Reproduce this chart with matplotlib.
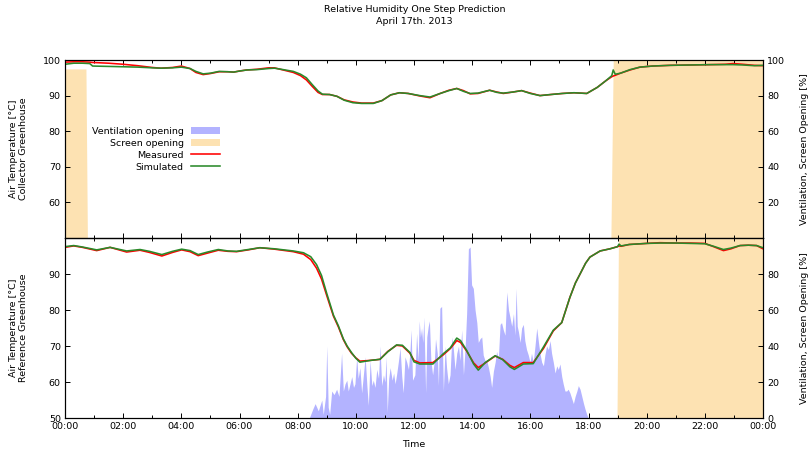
import matplotlib
matplotlib.use("Agg")
import matplotlib.pyplot as plt
from matplotlib.patches import Patch
from matplotlib.lines import Line2D
from matplotlib.ticker import MultipleLocator

# ---------------- data ----------------
# top panel (collector greenhouse)
top_hours = [0.0, 0.3, 0.6, 0.85, 0.95, 1.5, 2.0, 2.5, 3.0, 3.3, 3.7, 4.0, 4.3, 4.5, 4.75,
             5.0, 5.3, 5.6, 5.8, 6.0, 6.25, 6.6, 7.0, 7.2, 7.5, 7.85, 8.1, 8.3, 8.5, 8.7, 8.85,
             9.1, 9.35, 9.6, 9.9, 10.2, 10.6, 10.9, 11.2, 11.5, 11.8, 12.2, 12.55, 12.9, 13.2,
             13.47, 13.7, 13.93, 14.2, 14.6, 14.85, 15.07, 15.4, 15.7, 16.0, 16.33, 16.7, 17.1,
             17.5, 17.94, 18.3, 18.6, 18.8, 18.85, 18.92, 19.1, 19.43, 19.77, 20.2, 20.8, 21.5,
             22.2, 22.7, 22.97, 23.3, 23.7, 24.0]
top_measured = [99.4, 99.5, 99.5, 99.4, 99.3, 99.1, 98.8, 98.4, 97.9, 97.7, 97.9, 98.3, 97.6,
                96.5, 95.9, 96.2, 96.7, 96.7, 96.6, 96.9, 97.2, 97.4, 97.8, 97.8, 97.2, 96.5,
                95.6, 94.4, 92.6, 90.9, 90.3, 90.3, 89.8, 88.8, 88.2, 87.9, 87.9, 88.6, 90.2, 90.8,
                90.6, 89.9, 89.4, 90.6, 91.5, 92.0, 91.4, 90.5, 90.6, 91.5, 91.0, 90.6, 91.0,
                91.4, 90.7, 90.0, 90.3, 90.6, 90.8, 90.6, 92.3, 94.2, 95.3, 95.5, 95.7, 96.3,
                97.2, 98.0, 98.3, 98.5, 98.6, 98.7, 98.8, 99.0, 98.8, 98.5, 98.4]
top_simulated = [98.8, 99.1, 99.1, 99.0, 98.3, 98.2, 98.1, 98.0, 97.8, 97.7, 97.8, 98.0, 97.6,
                 96.8, 96.1, 96.3, 96.8, 96.7, 96.6, 96.9, 97.2, 97.3, 97.6, 97.7, 97.3, 96.8,
                 96.0, 95.0, 93.1, 91.3, 90.4, 90.3, 89.8, 88.7, 88.0, 87.8, 87.8, 88.6, 90.2, 90.8,
                 90.6, 90.0, 89.6, 90.6, 91.4, 92.0, 91.2, 90.6, 90.7, 91.5, 90.9, 90.7, 91.0,
                 91.4, 90.6, 90.0, 90.3, 90.6, 90.8, 90.6, 92.3, 94.2, 95.6, 97.2, 96.0, 96.3,
                 97.3, 98.0, 98.3, 98.5, 98.6, 98.7, 98.7, 98.7, 98.6, 98.4, 98.5]
top_screen_hours = [0.0, 0.72, 0.77, 18.77, 18.85, 24.0]
top_screen = [95, 95, 0, 0, 100, 100]

# bottom panel (reference greenhouse)
bot_hours = [0.0, 0.3, 0.6, 1.09, 1.55, 2.12, 2.58, 2.9, 3.33, 3.7, 4.01, 4.3, 4.58, 4.9, 5.27,
             5.6, 5.9, 6.3, 6.7, 7.2, 7.85, 8.2, 8.45, 8.65, 8.82, 9.0, 9.12, 9.23, 9.4, 9.57,
             9.7, 9.85, 10.0, 10.14, 10.5, 10.83, 11.1, 11.4, 11.6, 11.86, 12.0, 12.2, 12.65,
             13.0, 13.25, 13.47, 13.6, 13.81, 14.05, 14.21, 14.45, 14.79, 15.05, 15.3, 15.45,
             15.76, 16.1, 16.45, 16.79, 17.08, 17.2, 17.36, 17.55, 17.71, 17.9, 18.05, 18.4,
             18.74, 19.0, 19.05, 19.12, 19.4, 20.0, 20.46, 21.0, 21.5, 22.0, 22.3, 22.64, 22.9,
             23.21, 23.5, 23.78, 24.0]
bot_measured = [97.4, 97.8, 97.4, 96.5, 97.4, 96.1, 96.6, 96.0, 95.0, 96.0, 96.7, 96.2, 95.1,
                95.8, 96.6, 96.3, 96.2, 96.7, 97.3, 96.9, 96.2, 95.5, 94.0, 91.6, 88.6, 84.0,
                81.0, 78.3, 75.3, 71.8, 69.8, 68.0, 66.7, 65.8, 66.0, 66.3, 68.5, 70.2, 70.0,
                68.0, 66.0, 65.3, 65.4, 67.5, 69.3, 71.5, 71.0, 68.6, 65.3, 64.0, 65.3, 67.2,
                66.3, 64.6, 64.0, 65.4, 65.4, 69.3, 74.2, 76.5, 79.5, 83.5, 87.5, 90.0, 93.0,
                94.7, 96.4, 97.0, 97.6, 97.8, 97.7, 98.2, 98.5, 98.7, 98.6, 98.6, 98.5, 97.6,
                96.5, 97.0, 97.9, 98.0, 97.9, 97.0]
bot_simulated = [97.6, 97.9, 97.5, 96.7, 97.4, 96.4, 96.8, 96.3, 95.4, 96.3, 96.9, 96.5, 95.4,
                 96.1, 96.8, 96.4, 96.3, 96.8, 97.3, 97.0, 96.4, 95.9, 94.8, 92.6, 89.6, 84.6,
                 81.5, 78.6, 75.6, 72.0, 70.0, 68.2, 66.6, 65.5, 66.0, 66.3, 68.4, 70.3, 70.2,
                 68.2, 65.6, 65.0, 65.0, 67.8, 69.5, 72.2, 71.5, 68.8, 65.0, 63.3, 65.4, 67.3,
                 66.2, 64.2, 63.5, 65.0, 65.1, 69.7, 74.4, 76.5, 79.5, 83.5, 87.5, 90.0, 93.0,
                 94.7, 96.4, 97.0, 97.6, 98.3, 97.8, 98.2, 98.5, 98.6, 98.6, 98.5, 98.4, 97.7,
                 96.8, 97.2, 97.9, 98.0, 97.9, 97.3]
bot_screen_hours = [0.0, 18.98, 19.03, 24.0]
bot_screen = [0, 0, 100, 100]
vent_hours = [8.40, 8.52, 8.60, 8.71, 8.83, 8.88, 8.96, 9.00, 9.05, 9.10, 9.17, 9.25, 9.34, 9.42,
              9.51, 9.57, 9.63, 9.69, 9.74, 9.80, 9.86, 9.92, 9.97, 10.03, 10.08, 10.14, 10.20,
              10.26, 10.32, 10.38, 10.43, 10.49, 10.55, 10.60, 10.66, 10.72, 10.78, 10.83, 10.89,
              10.95, 11.00, 11.04, 11.08, 11.13, 11.18, 11.25, 11.30, 11.35, 11.40, 11.46, 11.52,
              11.58, 11.63, 11.69, 11.75, 11.81, 11.86, 11.90, 11.95, 12.03, 12.09, 12.14, 12.18,
              12.22, 12.26, 12.30, 12.34, 12.40, 12.44, 12.49, 12.53, 12.58, 12.64, 12.70, 12.74,
              12.80, 12.84, 12.89, 12.95, 13.01, 13.07, 13.12, 13.18, 13.24, 13.30, 13.35, 13.41,
              13.47, 13.53, 13.58, 13.64, 13.70, 13.76, 13.81, 13.87, 13.93, 13.98, 14.04, 14.10,
              14.16, 14.21, 14.27, 14.33, 14.38, 14.44, 14.50, 14.56, 14.62, 14.67, 14.73, 14.79,
              14.84, 14.90, 14.96, 15.01, 15.07, 15.13, 15.19, 15.25, 15.30, 15.36, 15.42, 15.47,
              15.51, 15.55, 15.59, 15.65, 15.70, 15.76, 15.81, 15.87, 15.93, 15.99, 16.04, 16.10,
              16.16, 16.22, 16.28, 16.33, 16.39, 16.45, 16.50, 16.56, 16.62, 16.68, 16.73, 16.79,
              16.85, 16.91, 16.96, 17.02, 17.08, 17.13, 17.19, 17.25, 17.30, 17.36, 17.42, 17.48,
              17.54, 17.60, 17.65, 17.71, 17.77, 17.83, 17.88, 17.94, 17.99]
vent_values = [0, 5, 8, 4, 10, 2, 12, 40, 6, 2, 15, 13, 16, 12,
               36, 15, 19, 21, 15, 19, 23, 17, 19, 34, 22, 28, 14,
               24, 34, 18, 7, 32, 18, 21, 17, 27, 22, 40, 18,
               24, 20, 34, 3, 22, 28, 21, 25, 19, 24, 31, 39,
               23, 14, 34, 31, 27, 37, 49, 21, 24, 47, 32, 54,
               45, 50, 42, 56, 14, 45, 51, 54, 32, 24, 32, 44,
               36, 18, 61, 62, 15, 40, 28, 19, 24, 45, 39, 27,
               36, 40, 32, 49, 24, 40, 58, 94, 95, 74, 72, 60,
               53, 42, 44, 45, 35, 32, 32, 28, 23, 17, 26, 31,
               37, 33, 52, 53, 49, 46, 70, 60, 56, 51, 58, 46,
               72, 51, 48, 42, 50, 52, 43, 38, 35, 31, 36, 31,
               40, 50, 42, 36, 31, 29, 35, 40, 38, 43, 36, 31,
               25, 29, 27, 30, 23, 19, 15, 15, 16, 14, 11, 8,
               12, 15, 18, 16, 12, 8, 5, 2, 0]

xtick_hours = list(range(0, 25, 2))
xtick_labels = ["00:00", "02:00", "04:00", "06:00", "08:00", "10:00", "12:00",
                "14:00", "16:00", "18:00", "20:00", "22:00", "00:00"]

# ---------------- style ----------------
FS = 6.8
plt.rcParams['font.family'] = ['DejaVu Sans']
plt.rcParams['font.size'] = FS
RED = '#ff0000'
GREEN = '#2a8a2a'
BLUE = '#b3b3ff'
ORANGE = '#fde2b2'
LW = 1.15

fig = plt.figure(figsize=(8.11, 4.51), dpi=100)
ax1 = fig.add_axes([65/811, 1-238/451, 698/811, 178/451])
ax2 = fig.add_axes([65/811, 1-418/451, 698/811, 180/451])
r1 = ax1.twinx()
r2 = ax2.twinx()

for ax, r in ((ax1, r1), (ax2, r2)):
    ax.set_zorder(r.get_zorder() + 1)
    ax.patch.set_visible(False)

# fills on right axes
r1.fill_between(top_screen_hours, 0, top_screen, color=ORANGE, lw=0)
r2.fill_between(bot_screen_hours, 0, bot_screen, color=ORANGE, lw=0)
r2.fill_between(vent_hours, 0, vent_values, color=BLUE, lw=0)

ax1.plot(top_hours, top_measured, color=RED, lw=LW)
ax1.plot(top_hours, top_simulated, color=GREEN, lw=LW)
ax2.plot(bot_hours, bot_measured, color=RED, lw=LW)
ax2.plot(bot_hours, bot_simulated, color=GREEN, lw=LW)

for ax in (ax1, ax2, r1, r2):
    ax.set_xlim(0, 24)
    ax.set_xticks(xtick_hours)
    ax.xaxis.set_minor_locator(MultipleLocator(1))
    ax.tick_params(which='major', direction='in', length=3.5, width=0.7, top=True, bottom=True,
                   labelsize=FS, pad=3)
    ax.tick_params(which='minor', direction='in', length=2, width=0.7, top=True, bottom=True)
    for s in ax.spines.values():
        s.set_linewidth(0.8)

ax1.set_ylim(50, 100)
ax1.set_yticks([60, 70, 80, 90, 100])
r1.set_ylim(0, 100)
r1.set_yticks([20, 40, 60, 80, 100])
ax2.set_ylim(50, 100)
ax2.set_yticks([50, 60, 70, 80, 90])
r2.set_ylim(0, 100)
r2.set_yticks([0, 20, 40, 60, 80])

ax1.tick_params(labelbottom=False)
r1.tick_params(labelbottom=False)
ax2.set_xticklabels(xtick_labels)

ax1.set_ylabel("Air Temperature [°C]\nCollector Greenhouse", fontsize=FS)
ax2.set_ylabel("Air Temperature [°C]\nReference Greenhouse", fontsize=FS)
ax1.yaxis.set_label_coords(-0.053, 0.5)
ax2.yaxis.set_label_coords(-0.053, 0.5)
r1.set_ylabel("Ventilation, Screen Opening [%]", fontsize=FS)
r2.set_ylabel("Ventilation, Screen Opening [%]", fontsize=FS)
r1.yaxis.set_label_coords(1.053, 0.5)
r2.yaxis.set_label_coords(1.053, 0.5)

ax2.set_xlabel("Time", fontsize=FS)
ax2.xaxis.set_label_coords(0.5, -(440-418)/180)

fig.text(414.5/811, 1-10/451, "Relative Humidity One Step Prediction", ha='center', va='center', fontsize=FS)
fig.text(414.5/811, 1-22/451, "April 17th. 2013", ha='center', va='center', fontsize=FS)

handles = [Patch(facecolor=BLUE, edgecolor='none'),
           Patch(facecolor=ORANGE, edgecolor='none'),
           Line2D([], [], color=RED, lw=LW),
           Line2D([], [], color=GREEN, lw=LW)]
labels = ["Ventilation opening", "Screen opening", "Measured", "Simulated"]
leg = ax1.legend(handles, labels, loc='upper left', bbox_to_anchor=((92-65)/698, (238-127)/178),
                 frameon=False, markerfirst=False, borderpad=0, borderaxespad=0,
                 handlelength=3.1, handleheight=0.75, handletextpad=0.75, labelspacing=0.3,
                 fontsize=FS)

fig.savefig("out.png", dpi=100)
